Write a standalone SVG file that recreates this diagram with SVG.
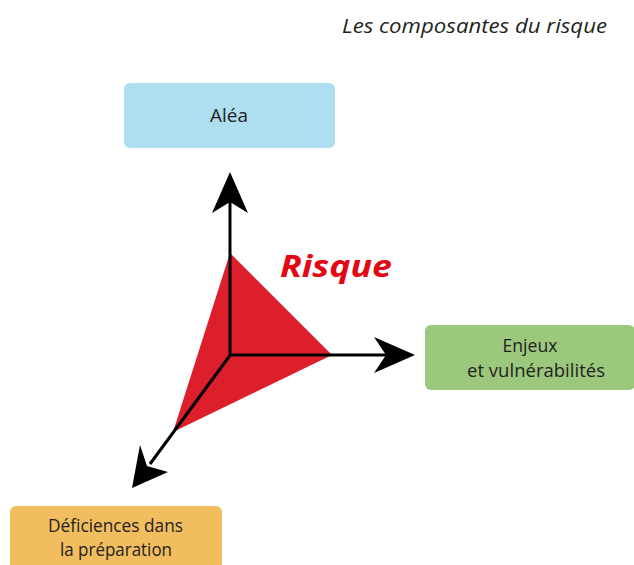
<svg xmlns="http://www.w3.org/2000/svg" width="634" height="565" viewBox="0 0 634 565">
<defs>
<style>
.lbl{font-family:"Open Sans","Noto Sans","Liberation Sans",sans-serif;font-size:18px;fill:#231f20;text-anchor:middle}
.ax{stroke:#000;stroke-width:3;fill:none}
.hd{fill:#000}
</style>
</defs>
<rect width="634" height="565" fill="#fff"/>
<text x="607" y="33" font-family="'Open Sans','Noto Sans',sans-serif" font-style="italic" font-size="20.5" fill="#231f20" text-anchor="end" textLength="265" lengthAdjust="spacingAndGlyphs">Les composantes du risque</text>
<g id="risque">
<polygon points="230,253 332,355 173,432" fill="#dc1f2b"/>
<text x="280" y="277" font-family="'Open Sans','Noto Sans',sans-serif" font-weight="bold" font-style="italic" font-size="31" fill="#e30613" textLength="112" lengthAdjust="spacingAndGlyphs">Risque</text>
</g>
<g id="connectors">
<line class="ax" x1="230" y1="356" x2="230" y2="200"/>
<path class="hd" d="M230,172 L248,213 L230,202 L212,213 Z"/>
<line class="ax" x1="229" y1="355" x2="388" y2="355"/>
<path class="hd" d="M415,355 L374,373 L386,355 L374,337 Z"/>
<line class="ax" x1="231" y1="354" x2="150" y2="464"/>
<path class="hd" d="M132,488 L140,445 L147,466 L168,472 Z"/>
</g>
<g id="alea">
<rect x="124" y="83" width="211" height="65" rx="6" fill="#aedff0"/>
<text class="lbl" x="229" y="122" textLength="38" lengthAdjust="spacingAndGlyphs">Aléa</text>
</g>
<g id="enjeux">
<rect x="425" y="325" width="210" height="65" rx="6" fill="#9bc87c"/>
<text class="lbl" x="530" y="352" textLength="55" lengthAdjust="spacingAndGlyphs">Enjeux</text>
<text class="lbl" x="536" y="377" textLength="138" lengthAdjust="spacingAndGlyphs">et vulnérabilités</text>
</g>
<g id="deficiences">
<rect x="10" y="506" width="212" height="70" rx="6" fill="#f2bd5e"/>
<text class="lbl" x="115.5" y="532" textLength="135" lengthAdjust="spacingAndGlyphs">Déficiences dans</text>
<text class="lbl" x="116" y="556" textLength="112" lengthAdjust="spacingAndGlyphs">la préparation</text>
</g>
</svg>
